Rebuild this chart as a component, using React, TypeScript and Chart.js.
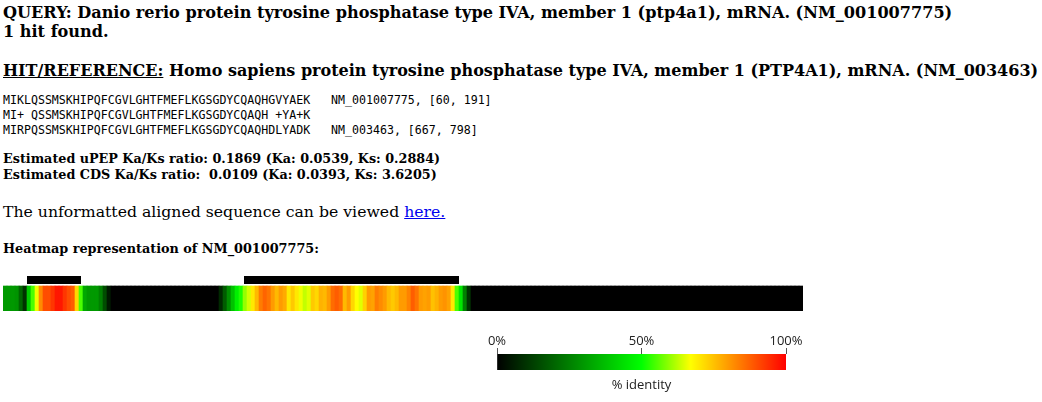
import React, { useEffect, useRef } from "react";
import { Chart, registerables } from "chart.js";

Chart.register(...registerables);

// ---- Text content ----
const QUERY_TEXT = "Danio rerio protein tyrosine phosphatase type IVA, member 1 (ptp4a1), mRNA. (NM_001007775)";
const HITS_TEXT = "1 hit found.";
const HIT_TEXT = "Homo sapiens protein tyrosine phosphatase type IVA, member 1 (PTP4A1), mRNA. (NM_003463)";
const ALIGN_LINES = [
  "MIKLQSSMSKHIPQFCGVLGHTFMEFLKGSGDYCQAQHGVYAEK   NM_001007775, [60, 191]",
  "MI+ QSSMSKHIPQFCGVLGHTFMEFLKGSGDYCQAQH +YA+K",
  "MIRPQSSMSKHIPQFCGVLGHTFMEFLKGSGDYCQAQHDLYADK   NM_003463, [667, 798]",
];
const RATIO_LINES = [
  "Estimated uPEP Ka/Ks ratio: 0.1869 (Ka: 0.0539, Ks: 0.2884)",
  "Estimated CDS Ka/Ks ratio:  0.0109 (Ka: 0.0393, Ks: 3.6205)",
];
const HEATMAP_TITLE = "Heatmap representation of NM_001007775:";

// ---- Heatmap data: % identity per column (0..1), left to right ----
const HEAT_IDENTITY = [
  0.3, 0.3, 0.3, 0.29, 0.2, 0.1, 0.4, 0.55, 0.66, 0.82, 0.9, 0.9, 0.93, 0.97, 0.97, 0.93, 0.9, 0.88, 0.72, 0.55,
  0.33, 0.3, 0.3, 0.3, 0.25, 0.15, 0.05, 0, 0, 0, 0, 0, 0, 0, 0, 0, 0, 0, 0, 0,
  0, 0, 0, 0, 0, 0, 0, 0, 0, 0, 0, 0, 0, 0, 0.08, 0.18, 0.28, 0.38, 0.47, 0.52,
  0.6, 0.64, 0.7, 0.76, 0.84, 0.87, 0.85, 0.8, 0.76, 0.8, 0.78, 0.7, 0.74, 0.7, 0.66, 0.63, 0.65, 0.74, 0.72, 0.77,
  0.76, 0.8, 0.86, 0.88, 0.86, 0.76, 0.8, 0.72, 0.67, 0.65, 0.73, 0.8, 0.79, 0.84, 0.82, 0.8, 0.76, 0.74, 0.76, 0.8,
  0.8, 0.83, 0.88, 0.85, 0.8, 0.79, 0.8, 0.75, 0.77, 0.8, 0.81, 0.79, 0.7, 0.55, 0.45, 0.25, 0.1, 0, 0, 0,
  0, 0, 0, 0, 0, 0, 0, 0, 0, 0, 0, 0, 0, 0, 0, 0, 0, 0, 0, 0,
  0, 0, 0, 0, 0, 0, 0, 0, 0, 0, 0, 0, 0, 0, 0, 0, 0, 0, 0, 0,
  0, 0, 0, 0, 0, 0, 0, 0, 0, 0, 0, 0, 0, 0, 0, 0, 0, 0, 0, 0,
  0, 0, 0, 0, 0, 0, 0, 0, 0, 0, 0, 0, 0, 0, 0, 0, 0, 0, 0, 0,
];
// Aligned regions (in heatmap column units)
const ALIGN_START = [6, 60.25];
const ALIGN_END = [19.5, 114];

// Colour scale
const SCALE_STOPS = [0, 0.5, 0.67, 1];
const SCALE_COLORS = [
  [0, 0, 0],
  [0, 255, 0],
  [255, 255, 0],
  [255, 0, 0],
];
const LEGEND_TICKS = [0, 50, 100];
const LEGEND_TITLE = "% identity";

function identityColor(v: number): string {
  for (let i = 0; i < SCALE_STOPS.length - 1; i++) {
    const a = SCALE_STOPS[i];
    const b = SCALE_STOPS[i + 1];
    if (v <= b || i === SCALE_STOPS.length - 2) {
      const t = Math.max(0, Math.min(1, (v - a) / (b - a)));
      const c0 = SCALE_COLORS[i];
      const c1 = SCALE_COLORS[i + 1];
      const c = c0.map((x, k) => Math.round(x + (c1[k] - x) * t));
      return `rgb(${c[0]},${c[1]},${c[2]})`;
    }
  }
  return "#000";
}

const SERIF = "'DejaVu Serif', serif";
const MONO = "'DejaVu Sans Mono', monospace";
const SANS = "'Open Sans', sans-serif";

export default function App() {
  const heatRef = useRef<HTMLCanvasElement>(null);
  const legRef = useRef<HTMLCanvasElement>(null);

  useEffect(() => {
    const heat = new Chart(heatRef.current!, {
      type: "bar",
      data: {
        datasets: [
          ...ALIGN_START.map((s, k) => ({
            type: "line" as const,
            data: [
              { x: s, y: 31 },
              { x: ALIGN_END[k], y: 31 },
            ],
            borderColor: "#000",
            borderWidth: 8,
            borderCapStyle: "butt" as const,
            pointRadius: 0,
            clip: false as any,
          })),
          {
            type: "bar" as const,
            data: HEAT_IDENTITY.map((v, i) => ({ x: i + 0.5, y: [0, 25] })) as any,
            backgroundColor: HEAT_IDENTITY.map(identityColor),
            barPercentage: 1,
            categoryPercentage: 1,
            borderWidth: 0,
            grouped: false,
          },
        ],
      } as any,
      options: {
        animation: false,
        responsive: false,
        events: [],
        layout: { padding: { left: 3, right: 7, top: 6, bottom: 4 } },
        plugins: { legend: { display: false }, tooltip: { enabled: false } },
        scales: {
          x: { type: "linear", min: 0, max: HEAT_IDENTITY.length, offset: false, display: false },
          y: { type: "linear", min: 0, max: 35, display: false },
        },
      },
    });

    const leg = new Chart(legRef.current!, {
      type: "bar",
      data: {
        labels: ["identity"],
        datasets: [
          {
            data: [[0, 100]] as any,
            backgroundColor: (ctx: any) => {
              const chart = ctx.chart;
              const area = chart.chartArea;
              if (!area) return "#000";
              const g = chart.ctx.createLinearGradient(area.left, 0, area.right, 0);
              SCALE_STOPS.forEach((s, i) => {
                const c = SCALE_COLORS[i];
                g.addColorStop(s, `rgb(${c[0]},${c[1]},${c[2]})`);
              });
              return g;
            },
            barPercentage: 1,
            categoryPercentage: 1,
            borderWidth: 0,
          },
        ],
      },
      options: {
        indexAxis: "y",
        animation: false,
        responsive: false,
        events: [],
        layout: { padding: { left: 37, right: 44, top: 0, bottom: 6.75 } },
        plugins: {
          legend: { display: false },
          tooltip: { enabled: false },
          title: {
            display: true,
            text: LEGEND_TITLE,
            position: "bottom",
            color: "#222",
            font: { family: SANS, size: 13, weight: "normal", lineHeight: 1.25 },
            padding: { top: 7, bottom: 0 },
          },
        },
        scales: {
          x: {
            type: "linear",
            position: "top",
            min: 0,
            max: 100,
            afterBuildTicks: (s: any) => {
              s.ticks = LEGEND_TICKS.map((v) => ({ value: v }));
            },
            afterFit: (s: any) => {
              s.height = 29;
            },
            ticks: {
              callback: (v: any) => v + "%",
              padding: 0,
              color: "#222",
              font: { family: SANS, size: 13, lineHeight: 1.05 },
              maxRotation: 0,
              autoSkip: false,
            },
            grid: { drawOnChartArea: false, tickLength: 6, color: "#555", tickColor: "#555" },
            border: { display: false },
          },
          y: { display: false },
        },
      } as any,
    });

    return () => {
      heat.destroy();
      leg.destroy();
    };
  }, []);

  const abs = (top: number, extra: React.CSSProperties = {}): React.CSSProperties => ({
    position: "absolute",
    left: 3,
    top,
    margin: 0,
    whiteSpace: "pre",
    ...extra,
  });

  return (
    <div
      style={{
        position: "fixed",
        left: 0,
        top: 0,
        width: 1042,
        height: 402,
        background: "#fff",
        color: "#000",
        fontFamily: SERIF,
        overflow: "hidden",
      }}
    >
      <div style={abs(3, { fontWeight: "bold", fontSize: 16.1, lineHeight: "19px" })}>
        {"QUERY: " + QUERY_TEXT}
        {"\n"}
        {HITS_TEXT}
      </div>
      <div style={abs(61, { fontWeight: "bold", fontSize: 16, lineHeight: "19px" })}>
        <u>HIT/REFERENCE:</u>
        {" " + HIT_TEXT}
      </div>
      <div style={abs(92.5, { fontFamily: MONO, fontSize: 11.6, lineHeight: "15px" })}>
        {ALIGN_LINES.join("\n")}
      </div>
      <div style={abs(150.5, { fontWeight: "bold", fontSize: 12.75, lineHeight: "16px" })}>
        {RATIO_LINES.join("\n")}
      </div>
      <div style={abs(202.3, { fontSize: 15.7, lineHeight: "19px" })}>
        {"The unformatted aligned sequence can be viewed "}
        <a href="#" style={{ color: "#0000ee", textDecoration: "underline" }}>
          here.
        </a>
      </div>
      <div style={abs(240.5, { fontWeight: "bold", fontSize: 12.8, lineHeight: "16px" })}>
        {HEATMAP_TITLE}
      </div>
      <canvas
        ref={heatRef}
        width={810}
        height={45}
        style={{ position: "absolute", left: 0, top: 270, width: 810, height: 45 }}
      />
      <canvas
        ref={legRef}
        width={370}
        height={75}
        style={{ position: "absolute", left: 460, top: 325, width: 370, height: 75 }}
      />
    </div>
  );
}
